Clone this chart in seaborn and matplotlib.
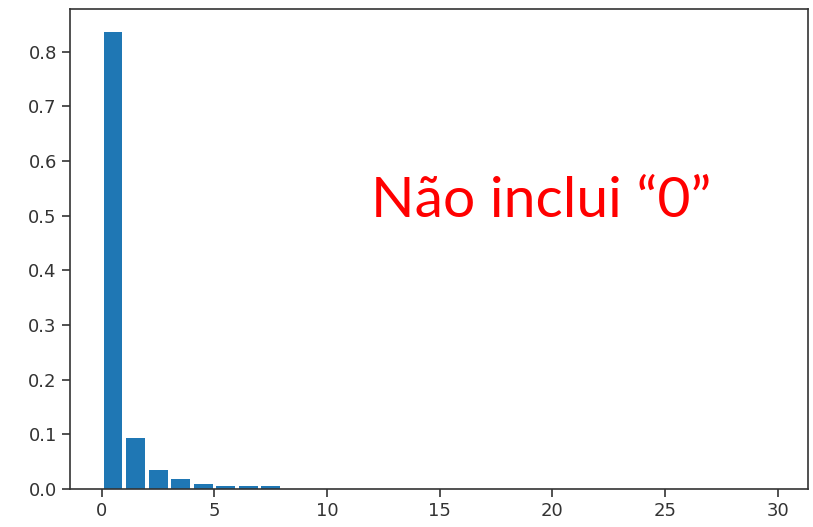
import numpy as np
import pandas as pd
import matplotlib
matplotlib.use("Agg")
import matplotlib.pyplot as plt
import seaborn as sns

# frequencias (sem o valor "0")
x_pos = [0.5, 1.5, 2.5, 3.5, 4.5, 5.5, 6.5, 7.5, 8.5, 9.5,
         10.5, 11.5, 12.5, 13.5, 14.5, 15.5, 16.5, 17.5, 18.5, 19.5,
         20.5, 21.5, 22.5, 23.5, 24.5, 25.5, 26.5, 27.5, 28.5, 29.5]
freq = [0.836, 0.094, 0.034, 0.018, 0.010, 0.006, 0.005, 0.005, 0.0, 0.0,
        0.0, 0.0, 0.0, 0.0, 0.0, 0.0, 0.0, 0.0, 0.0, 0.0,
        0.0, 0.0, 0.0, 0.0, 0.0, 0.0, 0.0, 0.0, 0.0, 0.0]
x_ticks = [0, 5, 10, 15, 20, 25, 30]
y_ticks = [0.0, 0.1, 0.2, 0.3, 0.4, 0.5, 0.6, 0.7, 0.8]
note = "Não inclui \u201c0\u201d"

df = pd.DataFrame({"x": x_pos, "freq": freq})

sns.set_style("ticks")
plt.rcParams["font.family"] = ["DejaVu Sans"]

fig = plt.figure(figsize=(8.13, 5.27), dpi=100)
ax = fig.add_axes([70 / 813, 38 / 527, 738 / 813, 480 / 527])

sns.barplot(data=df, x="x", y="freq", native_scale=True, width=0.84,
            color="#1f77b4", saturation=1, edgecolor="none", linewidth=0, ax=ax)

ax.set_xlim(-1.41, 31.35)
ax.set_ylim(0, 0.878)
ax.set_xticks(x_ticks)
ax.set_yticks(y_ticks)
ax.set_yticklabels([f"{v:.1f}" for v in y_ticks])
ax.set_xlabel("")
ax.set_ylabel("")
for s in ax.spines.values():
    s.set_visible(True)
    s.set_color("#333333")
    s.set_linewidth(1.2)
ax.tick_params(labelsize=13, colors="#333333", length=6, width=1.2)

fig.text(541 / 813, (527 - 217) / 527, note, color="red", fontsize=41,
         family=["Lato", "DejaVu Sans"], ha="center", va="baseline")

fig.savefig("out.png", dpi=100)
